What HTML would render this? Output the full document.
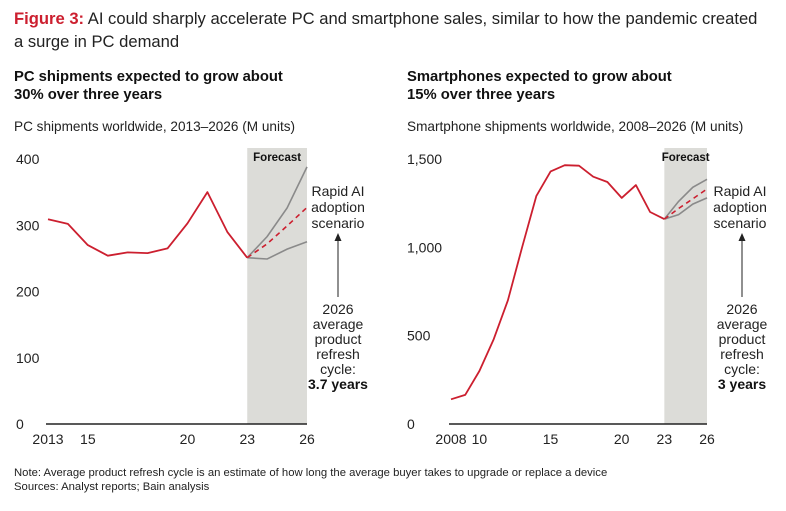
<!DOCTYPE html>
<html><head><meta charset="utf-8"><style>
body{margin:0;background:#fff;font-family:"Liberation Sans",sans-serif;}
svg text{font-family:"Liberation Sans",sans-serif;}
</style></head><body>
<svg width="786" height="506" viewBox="0 0 786 506">
<text x="14" y="24" font-size="16.6" fill="#222"><tspan fill="#cc1f2f" font-weight="bold">Figure 3:</tspan> AI could sharply accelerate PC and smartphone sales, similar to how the pandemic created</text>
<text x="14" y="47" font-size="16.6" fill="#222">a surge in PC demand</text>
<text x="14" y="81" font-size="14.8" font-weight="bold" fill="#111">PC shipments expected to grow about</text>
<text x="14" y="99" font-size="14.8" font-weight="bold" fill="#111">30% over three years</text>
<text x="14" y="131" font-size="13.6" fill="#222">PC shipments worldwide, 2013–2026 (M units)</text>
<text x="407" y="81" font-size="14.8" font-weight="bold" fill="#111">Smartphones expected to grow about</text>
<text x="407" y="99" font-size="14.8" font-weight="bold" fill="#111">15% over three years</text>
<text x="407" y="131" font-size="13.6" fill="#222">Smartphone shipments worldwide, 2008–2026 (M units)</text>
<g id="left"></g>
<g id="right"></g>
<text x="14" y="476" font-size="11.3" fill="#222">Note: Average product refresh cycle is an estimate of how long the average buyer takes to upgrade or replace a device</text>
<text x="14" y="490" font-size="11.3" fill="#222">Sources: Analyst reports; Bain analysis</text>
</svg>
<script>
const pcYears=[2013,2014,2015,2016,2017,2018,2019,2020,2021,2022,2023];
const pcValues=[309,302,270,254,259,258,265,303,350,290,251];
const pcFcYears=[2023,2024,2025,2026];
const pcHigh=[251,283,326,388];
const pcMid=[251,272,299,327];
const pcLow=[251,249,264,275];
const pcYTicks=[0,100,200,300,400];
const pcXTicks=[2013,2015,2020,2023,2026];
const pcXLabels=["2013","15","20","23","26"];

const spYears=[2008,2009,2010,2011,2012,2013,2014,2015,2016,2017,2018,2019,2020,2021,2022,2023];
const spValues=[140,165,300,480,700,1000,1290,1430,1465,1462,1400,1370,1280,1352,1200,1160];
const spFcYears=[2023,2024,2025,2026];
const spHigh=[1160,1260,1340,1385];
const spMid=[1160,1220,1275,1330];
const spLow=[1160,1185,1245,1280];
const spYTicks=[0,500,1000,1500];
const spYLabels=["0","500","1,000","1,500"];
const spXTicks=[2008,2010,2015,2020,2023,2026];
const spXLabels=["2008","10","15","20","23","26"];

const NS="http://www.w3.org/2000/svg";
function mk(p,tag,a,txt){const e=document.createElementNS(NS,tag);for(const k in a)e.setAttribute(k,a[k]);if(txt!==undefined)e.textContent=txt;p.appendChild(e);return e;}

function chart(g,o){
  const x=v=>o.x0+(v-o.xmin)/(o.xmax-o.xmin)*(o.x1-o.x0);
  const y=v=>o.yb-v/o.ymax*(o.yb-o.yt);
  const band=mk(g,'rect',{x:x(2023),y:148,width:x(o.xmax)-x(2023),height:o.yb-148,fill:'#dcdcd8'});
  
  
  const ft=mk(g,'text',{x:(x(2023)+x(o.xmax))/2,y:161,'font-size':11.5,'font-weight':'bold','text-anchor':'middle',fill:'#111'},'Forecast');
  
  
  o.yTicks.forEach((t,i)=>{
    const tl=mk(g,'text',{x:o.ylx,y:y(t)+5,'font-size':14,fill:'#222'},o.yLabels[i]);
    
    
  });
  o.xTicks.forEach((t,i)=>{
    const tl=mk(g,'text',{x:x(t),y:o.yb+20,'font-size':14,fill:'#222','text-anchor':'middle'},o.xLabels[i]);
    
    
  });
  const ax=mk(g,'line',{x1:o.x0-2,x2:x(o.xmax),y1:o.yb,y2:o.yb,stroke:'#222','stroke-width':1.5});
  
  
  const pts=(xs,vs)=>xs.map((v,i)=>x(v).toFixed(1)+','+y(vs[i]).toFixed(1)).join(' ');
  const hi=mk(g,'polyline',{points:pts(o.fy,o.hi),fill:'none',stroke:'#8a8a8a','stroke-width':1.6});
  
  
  const lo=mk(g,'polyline',{points:pts(o.fy,o.lo),fill:'none',stroke:'#8a8a8a','stroke-width':1.6});
  
  
  const mid=mk(g,'polyline',{points:pts(o.fy,o.mid),fill:'none',stroke:'#cc1f2f','stroke-width':1.6,'stroke-dasharray':'5,4'});
  
  
  const hist=mk(g,'polyline',{points:pts(o.years,o.vals),fill:'none',stroke:'#cc1f2f','stroke-width':1.8,'stroke-linejoin':'round'});
  
  
  const ac=o.annX;
  ['Rapid AI','adoption','scenario'].forEach((s,i)=>{
    const t=mk(g,'text',{x:ac,y:196+i*16,'font-size':14,fill:'#222','text-anchor':'middle'},s);
    
    
  });
  const ar=mk(g,'line',{x1:o.arrX,x2:o.arrX,y1:297,y2:238,stroke:'#222','stroke-width':1});
  
  
  const ah=mk(g,'path',{d:`M${o.arrX-3.5},241 L${o.arrX},233 L${o.arrX+3.5},241 Z`,fill:'#222'});
  
  
  const lines=['2026','average','product','refresh','cycle:'];
  lines.forEach((s,i)=>{
    const t=mk(g,'text',{x:o.arrX,y:314+i*15,'font-size':14,fill:'#222','text-anchor':'middle'},s);
    
    
  });
  const b=mk(g,'text',{x:o.arrX,y:389,'font-size':14,'font-weight':'bold',fill:'#111','text-anchor':'middle'},o.cycle);
  
  
}
chart(document.getElementById('left'),{x0:48,x1:307,xmin:2013,xmax:2026,yb:424,yt:159,ymax:400,ylx:16,
  yTicks:pcYTicks,yLabels:pcYTicks.map(String),xTicks:pcXTicks,xLabels:pcXLabels,
  years:pcYears,vals:pcValues,fy:pcFcYears,hi:pcHigh,mid:pcMid,lo:pcLow,annX:338,arrX:338,cycle:'3.7 years'});
chart(document.getElementById('right'),{x0:451,x1:707,xmin:2008,xmax:2026,yb:424,yt:159,ymax:1500,ylx:407,
  yTicks:spYTicks,yLabels:spYLabels,xTicks:spXTicks,xLabels:spXLabels,
  years:spYears,vals:spValues,fy:spFcYears,hi:spHigh,mid:spMid,lo:spLow,annX:740,arrX:742,cycle:'3 years'});
</script>
</body></html>
